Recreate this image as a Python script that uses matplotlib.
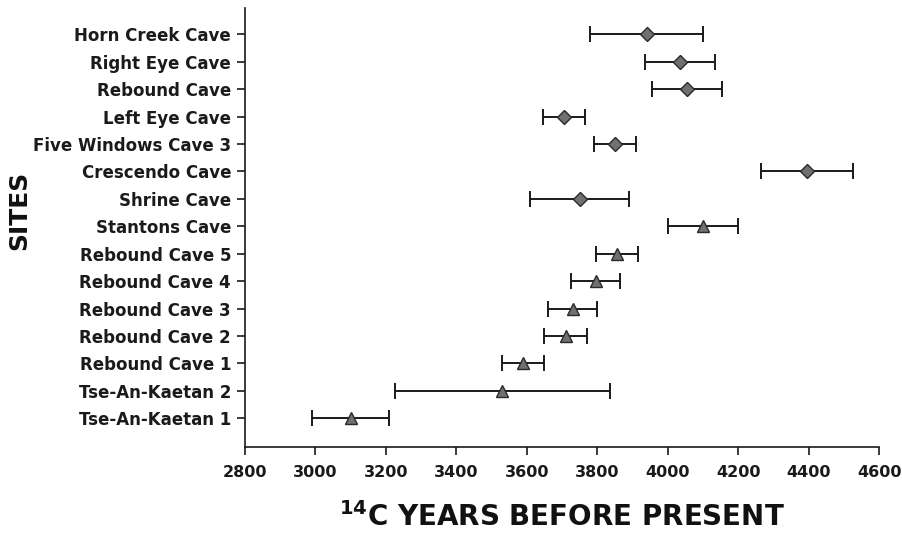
import numpy as np
import matplotlib.pyplot as plt

plt.rcParams['font.family'] = ['DejaVu Sans']
plt.rcParams['mathtext.fontset'] = 'dejavusans'

# sites, top to bottom
sites = ['Horn Creek Cave', 'Right Eye Cave', 'Rebound Cave', 'Left Eye Cave',
         'Five Windows Cave 3', 'Crescendo Cave', 'Shrine Cave', 'Stantons Cave',
         'Rebound Cave 5', 'Rebound Cave 4', 'Rebound Cave 3', 'Rebound Cave 2',
         'Rebound Cave 1', 'Tse-An-Kaetan 2', 'Tse-An-Kaetan 1']
ages = [3940, 4035, 4055, 3705, 3850, 4395, 3750, 4100,
        3855, 3795, 3730, 3710, 3590, 3530, 3100]
errors = [160, 100, 100, 60, 60, 130, 140, 100,
          60, 70, 70, 60, 60, 305, 110]
# diamond for first 7 sites, triangle for the rest
markers = ['D'] * 7 + ['^'] * 8

xticks = np.arange(2800, 4601, 200)

fig = plt.figure(figsize=(9.02, 5.46), dpi=100)
ax = fig.add_axes([0.2716, 0.181, 0.703, 0.804])

n = len(sites)
ypos = np.arange(n)[::-1]

for y, a, e, m in zip(ypos, ages, errors, markers):
    ax.errorbar(a, y, xerr=e, fmt='none', ecolor='#1a1a1a', elinewidth=1.4,
                capsize=5.5, capthick=1.4, zorder=2)
    ax.plot(a, y, marker=m, markersize=7 if m == 'D' else 8.5,
            color='#707070', markeredgecolor='#2a2a2a', markeredgewidth=1.0,
            linestyle='none', zorder=3)

ax.set_xlim(2800, 4600)
ax.set_ylim(-1.05, 14.95)
ax.set_xticks(xticks)
ax.set_xticklabels([str(t) for t in xticks], fontsize=11.5, fontweight='bold',
                   color='#1a1a1a')
ax.set_yticks(ypos)
ax.set_yticklabels(sites, fontsize=12, fontweight='bold', color='#1a1a1a')

for s in ['top', 'right']:
    ax.spines[s].set_visible(False)
for s in ['left', 'bottom']:
    ax.spines[s].set_linewidth(1.2)
    ax.spines[s].set_color('#1a1a1a')

ax.tick_params(axis='both', direction='out', length=5.5, width=1.2, colors='#1a1a1a')
ax.tick_params(axis='x', pad=7)
ax.tick_params(axis='y', pad=4.5)

ax.set_xlabel(r'$^{\mathbf{14}}$C YEARS BEFORE PRESENT', fontsize=20,
              fontweight='bold', color='#111111', labelpad=16)
ax.set_ylabel('SITES', fontsize=18, fontweight='bold', color='#111111')
ax.yaxis.set_label_coords(-0.3375, 0.54)

plt.savefig('out.png', dpi=100)
plt.close()
